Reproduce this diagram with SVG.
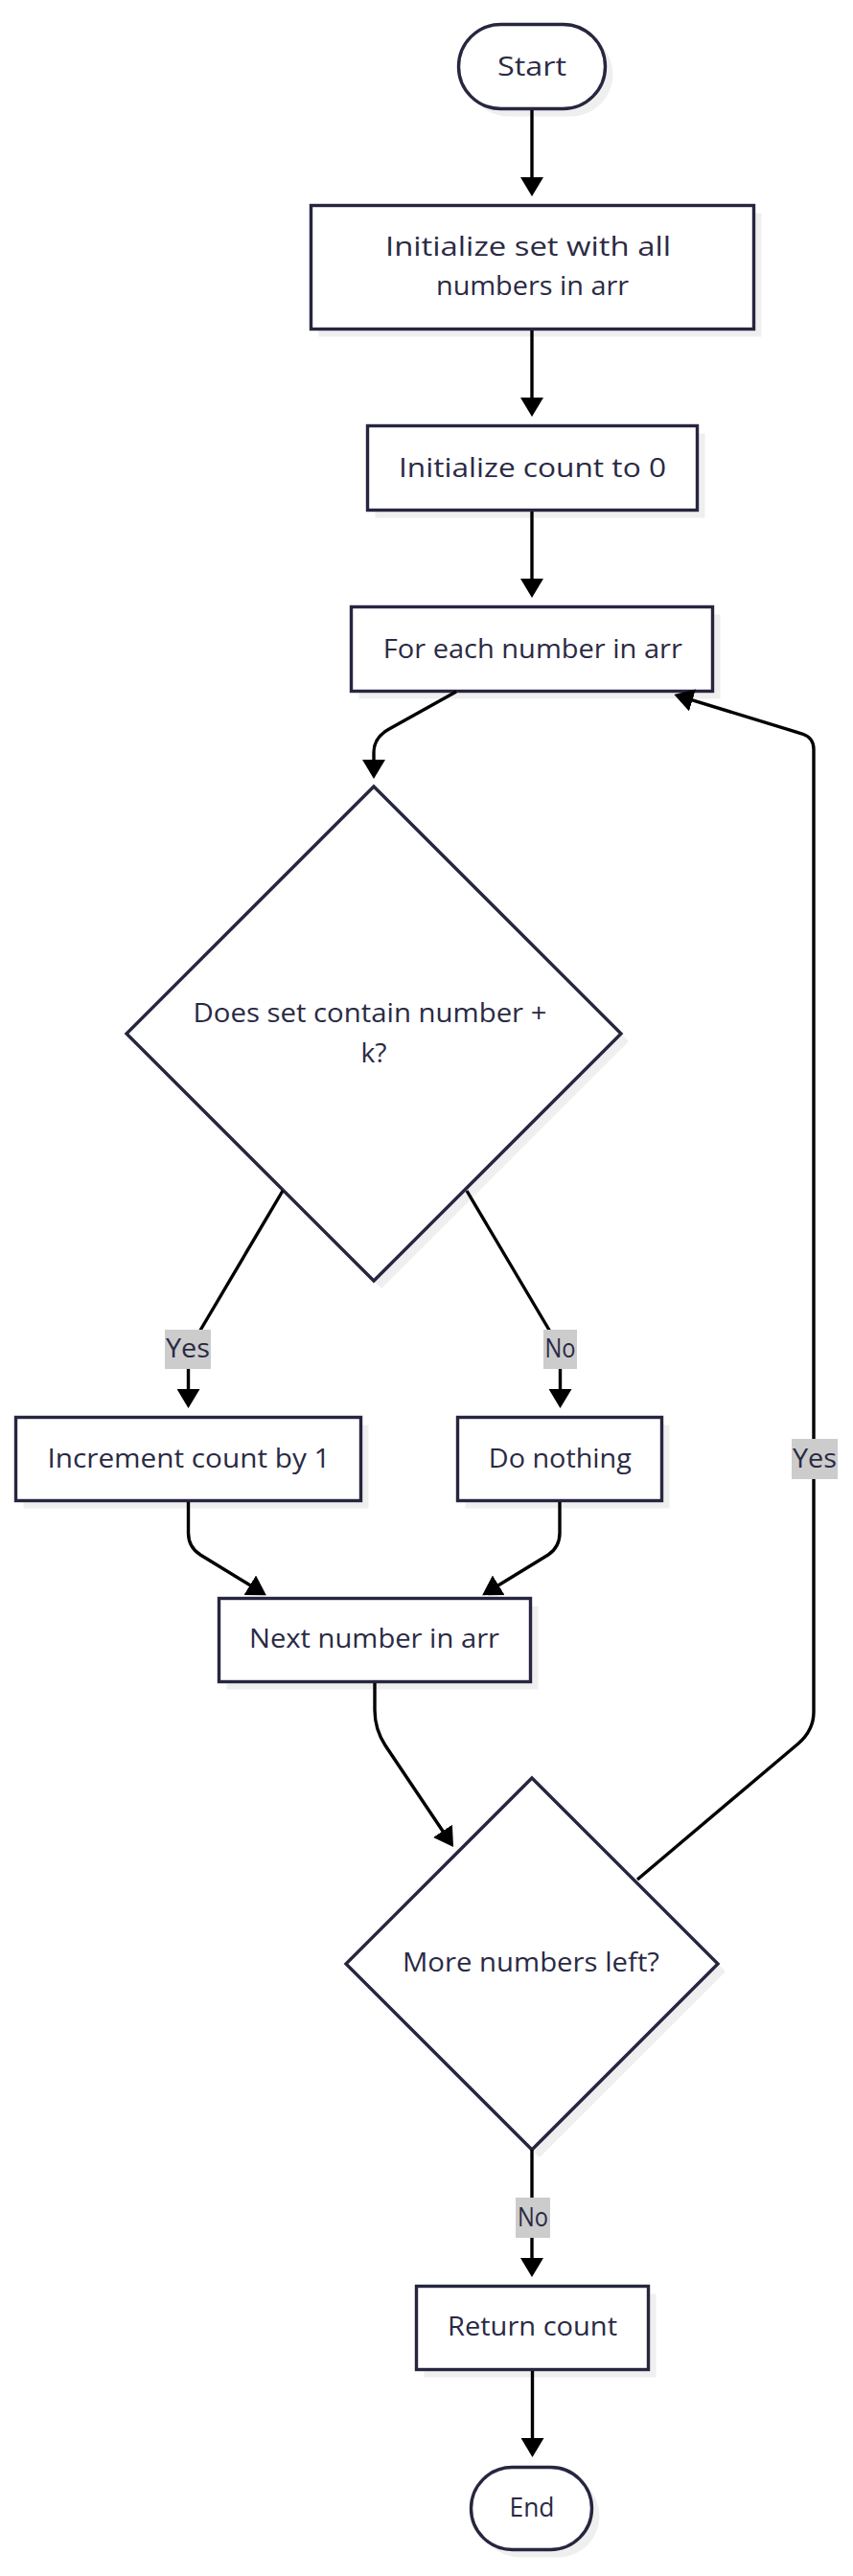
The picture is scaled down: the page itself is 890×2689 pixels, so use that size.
<svg xmlns="http://www.w3.org/2000/svg" width="890" height="2689" viewBox="0 0 890 2689">
<style>
.bg{fill:#ffffff}
.shadow{fill:#efefef;stroke:none}
.node{fill:#ffffff;stroke:#262640;stroke-width:3.4}
.t{font-family:"Open Sans","Noto Sans","Liberation Sans",sans-serif;font-size:28px;fill:#2a2a44;text-anchor:middle}
.edge{fill:none;stroke:#000000;stroke-width:3.4;marker-end:url(#arrow)}
.lbg{fill:#cccccc;stroke:none}
</style>
<defs>
<marker id="arrow" viewBox="0 0 10 12" refX="6" refY="6" markerWidth="20" markerHeight="24" markerUnits="userSpaceOnUse" orient="auto">
<path d="M0,0 L10,6 L0,12 z" fill="#000000"/>
</marker>
</defs>
<rect class="bg" x="0" y="0" width="890" height="2689"/>

<g id="start">
<rect class="shadow" x="486.5" y="33.5" width="153" height="88" rx="44"/>
<rect class="node" x="478.5" y="25.5" width="153" height="88" rx="44"/>
<text class="t" x="555" y="79" textLength="72" lengthAdjust="spacingAndGlyphs">Start</text>
</g>

<g id="initSet">
<rect class="shadow" x="332.5" y="222.5" width="462" height="129"/>
<rect class="node" x="324.5" y="214.5" width="462" height="129"/>
<text class="t" x="551" y="267" textLength="298" lengthAdjust="spacingAndGlyphs">Initialize set with all</text>
<text class="t" x="555.5" y="308" textLength="201" lengthAdjust="spacingAndGlyphs">numbers in arr</text>
</g>

<g id="initCount">
<rect class="shadow" x="391.5" y="452.5" width="344" height="88"/>
<rect class="node" x="383.5" y="444.5" width="344" height="88"/>
<text class="t" x="555.5" y="498" textLength="279" lengthAdjust="spacingAndGlyphs">Initialize count to 0</text>
</g>

<g id="forEach">
<rect class="shadow" x="374.5" y="641.5" width="377" height="88"/>
<rect class="node" x="366.5" y="633.5" width="377" height="88"/>
<text class="t" x="555.8" y="687" textLength="312" lengthAdjust="spacingAndGlyphs">For each number in arr</text>
</g>

<g id="contains">
<polygon class="shadow" points="398,829 656,1087 398,1345 140,1087"/>
<polygon class="node" points="390,821 648,1079 390,1337 132,1079"/>
<text class="t" x="386" y="1067" textLength="369" lengthAdjust="spacingAndGlyphs">Does set contain number +</text>
<text class="t" x="390" y="1109" textLength="27" lengthAdjust="spacingAndGlyphs">k?</text>
</g>

<g id="increment">
<rect class="shadow" x="24.5" y="1487.5" width="360" height="87"/>
<rect class="node" x="16.5" y="1479.5" width="360" height="87"/>
<text class="t" x="197" y="1532" textLength="295" lengthAdjust="spacingAndGlyphs">Increment count by 1</text>
</g>

<g id="doNothing">
<rect class="shadow" x="485.5" y="1487.5" width="213" height="87"/>
<rect class="node" x="477.5" y="1479.5" width="213" height="87"/>
<text class="t" x="584.3" y="1532" textLength="149" lengthAdjust="spacingAndGlyphs">Do nothing</text>
</g>

<g id="nextNumber">
<rect class="shadow" x="236.5" y="1676.5" width="325" height="87"/>
<rect class="node" x="228.5" y="1668.5" width="325" height="87"/>
<text class="t" x="390.5" y="1720" textLength="261" lengthAdjust="spacingAndGlyphs">Next number in arr</text>
</g>

<g id="moreLeft">
<polygon class="shadow" points="563,1864 757,2058 563,2252 369,2058"/>
<polygon class="node" points="555,1856 749,2050 555,2244 361,2050"/>
<text class="t" x="554" y="2058" textLength="268" lengthAdjust="spacingAndGlyphs">More numbers left?</text>
</g>

<g id="returnCount">
<rect class="shadow" x="442.5" y="2394.5" width="242" height="87"/>
<rect class="node" x="434.5" y="2386.5" width="242" height="87"/>
<text class="t" x="555.5" y="2438" textLength="177" lengthAdjust="spacingAndGlyphs">Return count</text>
</g>

<g id="end">
<rect class="shadow" x="499.5" y="2583.5" width="126" height="86" rx="43"/>
<rect class="node" x="491.5" y="2575.5" width="126" height="86" rx="43"/>
<text class="t" x="555" y="2627" textLength="47" lengthAdjust="spacingAndGlyphs">End</text>
</g>

<g id="connectors">
<path class="edge" d="M555,115 L555,197"/>
<path class="edge" d="M555,345 L555,427"/>
<path class="edge" d="M555,534 L555,616"/>
<path class="edge" d="M476,722 L406,761 Q390,770 390,785 L390,805"/>
<path class="edge" d="M295,1243 L207,1392 Q196.5,1410 196.5,1428 L196.5,1462"/>
<path class="edge" d="M487,1243 L574,1390 Q584.5,1408 584.5,1428 L584.5,1462"/>
<path class="edge" d="M196.5,1568 L196.5,1600 Q196.5,1615 209,1623 L271,1661"/>
<path class="edge" d="M584,1568 L584,1600 Q584,1615 572,1623 L510,1661"/>
<path class="edge" d="M391,1757 L391,1785 Q391,1805 402,1822 L468.6,1921.3"/>
<path class="edge" d="M665,1962 L833,1820 Q849,1806 849,1787 L849,782 Q849,770 837,766 L711,727.4"/>
<path class="edge" d="M555,2244 L555,2369"/>
<path class="edge" d="M555.5,2475 L555.5,2557"/>
</g>

<g id="edgeLabels">
<rect class="lbg" x="172" y="1388" width="48" height="41"/>
<text class="t" x="196" y="1417" textLength="46" lengthAdjust="spacingAndGlyphs">Yes</text>
<rect class="lbg" x="567" y="1388" width="35" height="41"/>
<text class="t" x="584.5" y="1417" textLength="32" lengthAdjust="spacingAndGlyphs">No</text>
<rect class="lbg" x="826" y="1502" width="48" height="42"/>
<text class="t" x="850" y="1532" textLength="46" lengthAdjust="spacingAndGlyphs">Yes</text>
<rect class="lbg" x="538" y="2294" width="36" height="42"/>
<text class="t" x="556" y="2324" textLength="32" lengthAdjust="spacingAndGlyphs">No</text>
</g>
</svg>
